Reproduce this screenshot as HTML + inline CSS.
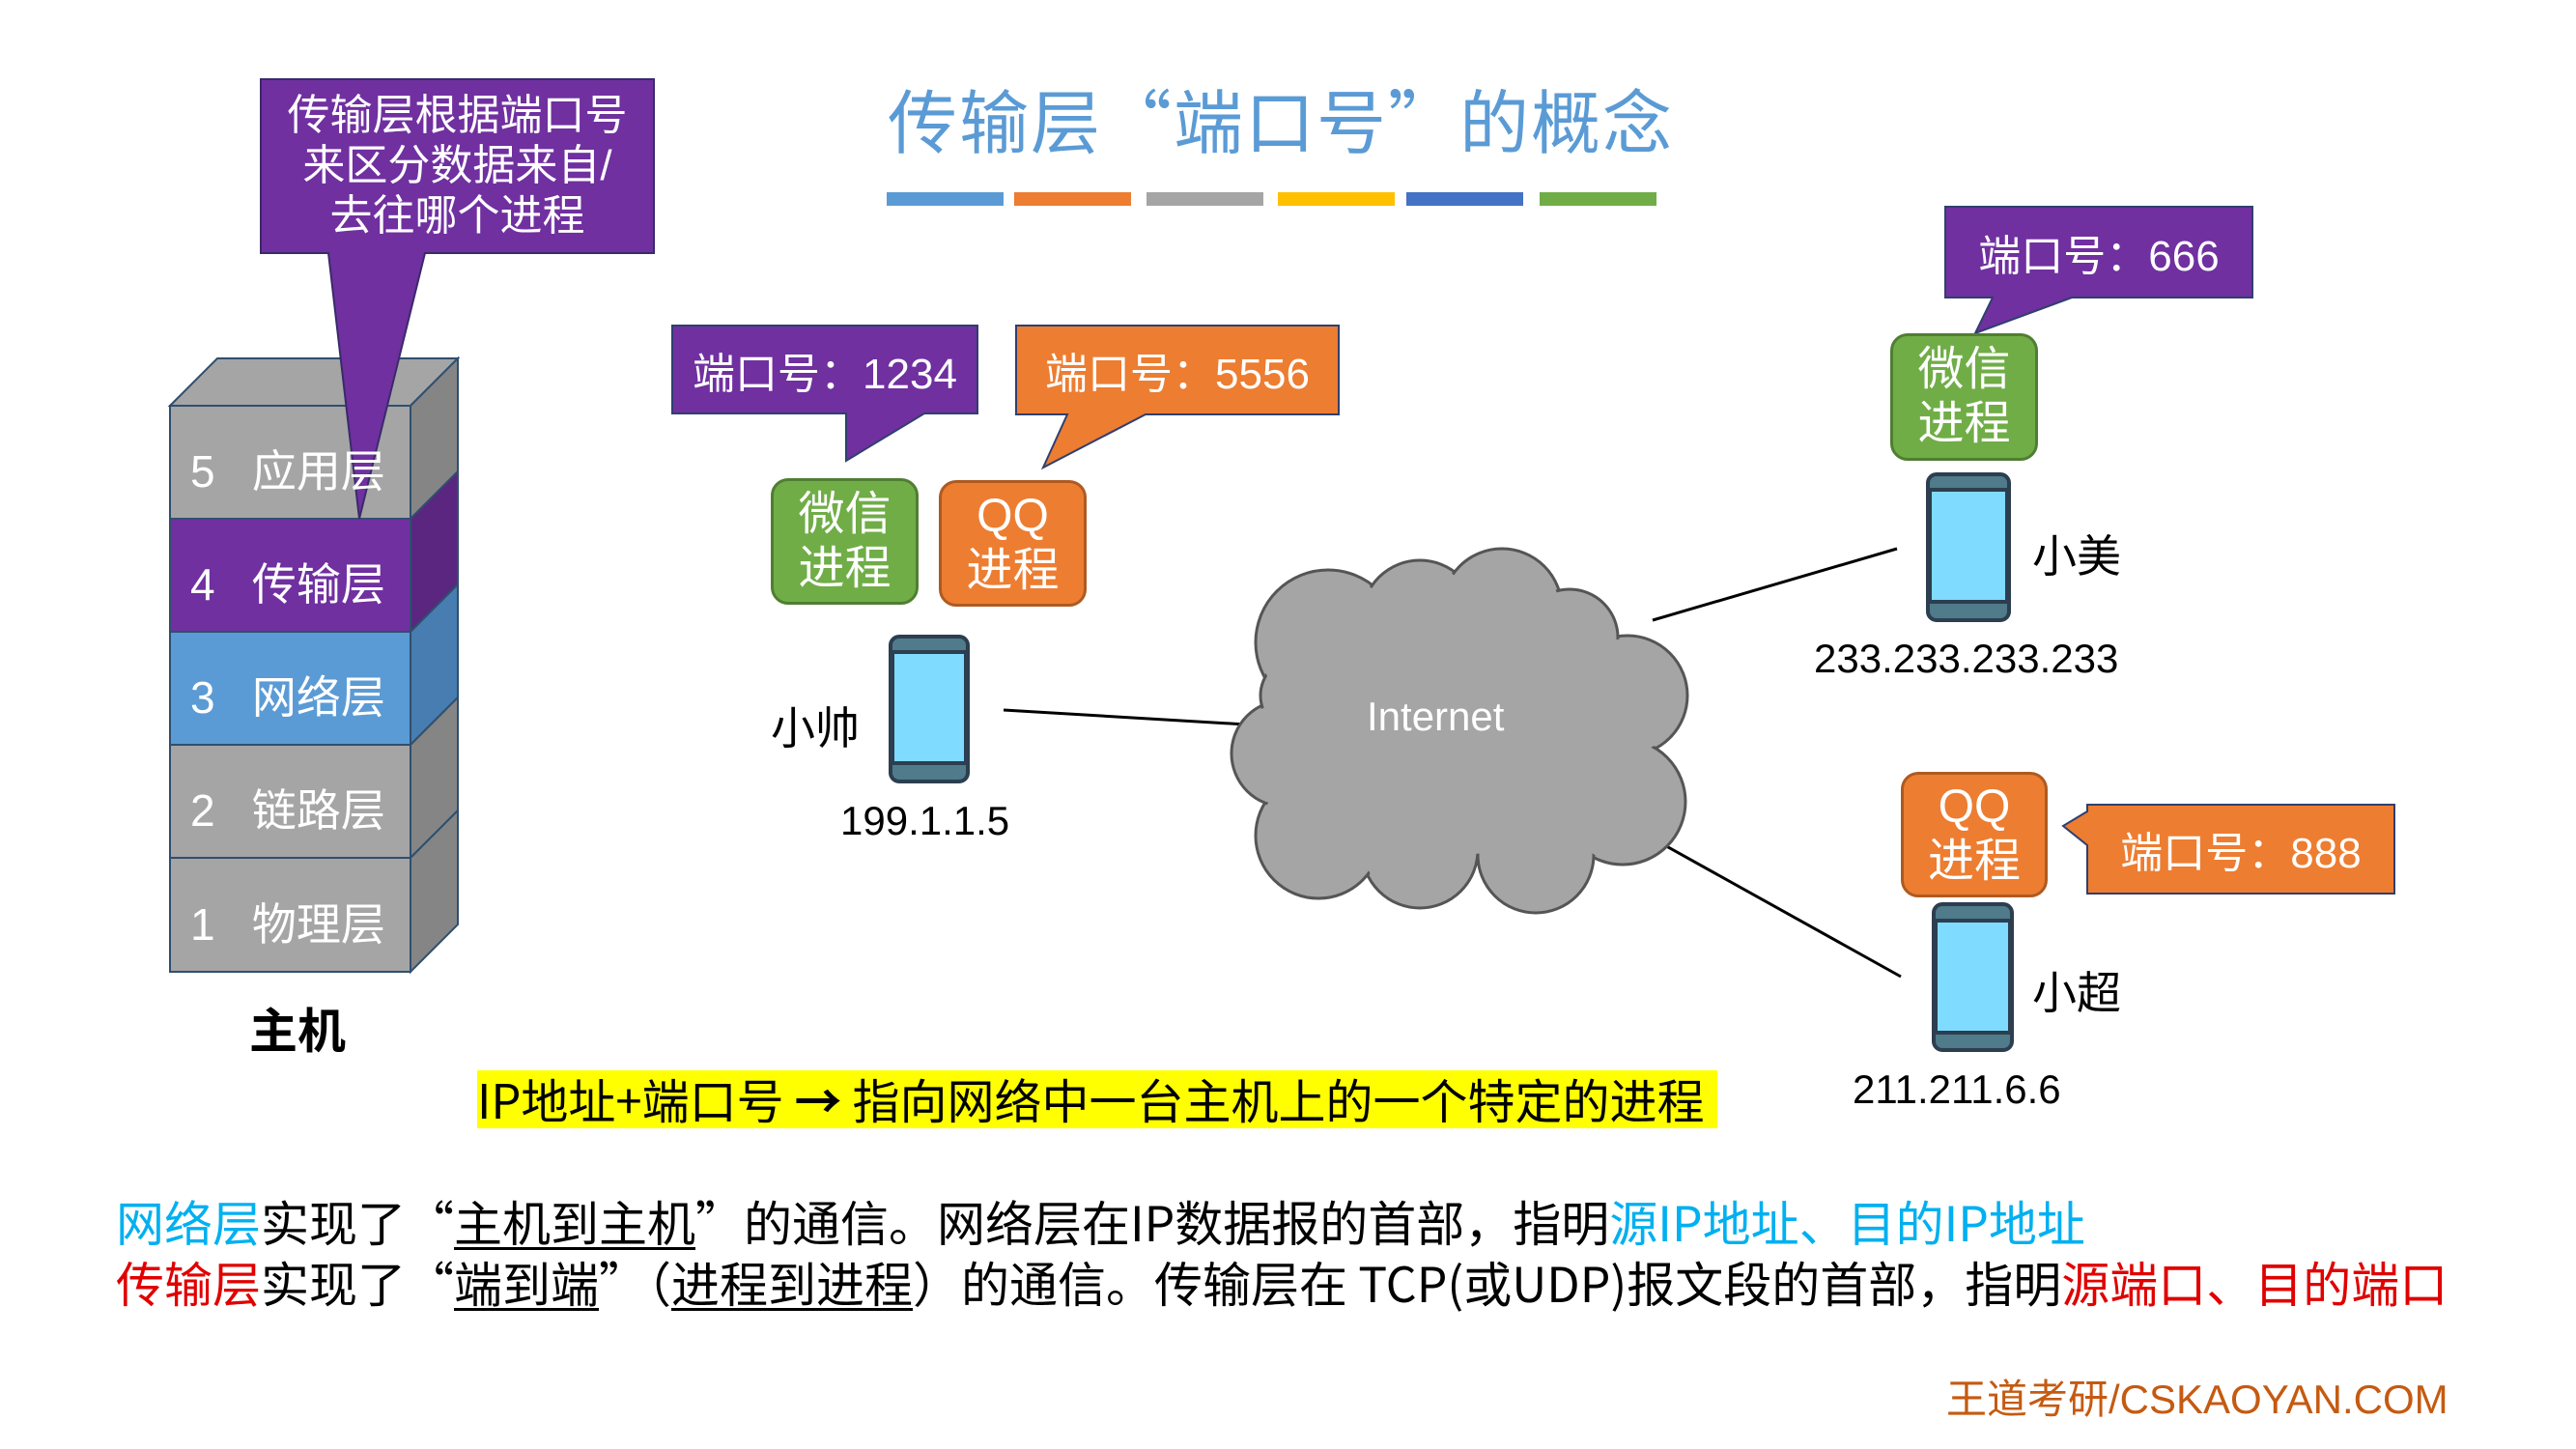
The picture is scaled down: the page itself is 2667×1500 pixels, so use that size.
<!DOCTYPE html>
<html><head><meta charset="utf-8"><style>
body{margin:0;width:2667px;height:1500px;background:#fff;overflow:hidden;position:relative;font-family:"Liberation Sans","Noto Sans CJK SC",sans-serif}
.a{position:absolute;white-space:nowrap}
.cj{font-family:"Noto Sans CJK SC","Liberation Sans",sans-serif}
.cb{position:absolute;display:flex;align-items:center;justify-content:center;color:#fff;text-align:center;box-sizing:border-box}
u{text-decoration-thickness:3px;text-underline-offset:6px}
</style></head><body>
<svg class="a" style="left:0;top:0" width="2667" height="1500">
 <g stroke="#2f4f6f" stroke-width="2">
  <polygon points="176,420 225,371 474,371 425,420" fill="#a5a5a5"/>
  <rect x="176" y="420" width="249" height="117" fill="#a5a5a5"/>
  <polygon points="425,420 474,371 474,488 425,537" fill="#858585"/>
  <rect x="176" y="537" width="249" height="117" fill="#7030a0"/>
  <polygon points="425,537 474,488 474,605 425,654" fill="#5a2680"/>
  <rect x="176" y="654" width="249" height="117" fill="#5b9bd5"/>
  <polygon points="425,654 474,605 474,722 425,771" fill="#477db0"/>
  <rect x="176" y="771" width="249" height="117" fill="#a5a5a5"/>
  <polygon points="425,771 474,722 474,839 425,888" fill="#858585"/>
  <rect x="176" y="888" width="249" height="118" fill="#a5a5a5"/>
  <polygon points="425,888 474,839 474,957 425,1006" fill="#858585"/>
 </g>
 <polygon points="270,82 677,82 677,262 440,262 372,537 340,262 270,262" fill="#7030a0" stroke="#3a2a6a" stroke-width="2"/>
 <rect x="918" y="199" width="121" height="14" fill="#5b9bd5"/>
 <rect x="1050" y="199" width="121" height="14" fill="#ed7d31"/>
 <rect x="1187" y="199" width="121" height="14" fill="#a5a5a5"/>
 <rect x="1323" y="199" width="121" height="14" fill="#ffc000"/>
 <rect x="1456" y="199" width="121" height="14" fill="#4472c4"/>
 <rect x="1594" y="199" width="121" height="14" fill="#70ad47"/>
 <polygon points="696,337 1012,337 1012,428 957,428 876,477 876,428 696,428" fill="#7030a0" stroke="#2f3f6f" stroke-width="2"/>
 <polygon points="1052,337 1386,337 1386,429 1186,429 1080,484 1105,429 1052,429" fill="#ed7d31" stroke="#2f3f6f" stroke-width="2"/>
 <polygon points="2014,214 2332,214 2332,308 2145,308 2045,345 2063,308 2014,308" fill="#7030a0" stroke="#2f3f6f" stroke-width="2"/>
 <polygon points="2161,833 2479,833 2479,925 2161,925 2161,875 2136,855 2161,840" fill="#ed7d31" stroke="#2f3f6f" stroke-width="2"/>
 <g stroke="#000" stroke-width="3">
  <line x1="1039" y1="735" x2="1290" y2="750"/>
  <line x1="1711" y1="642" x2="1964" y2="568"/>
  <line x1="1675" y1="848" x2="1968" y2="1011"/>
 </g>
 <g fill="#a5a5a5" stroke="#555" stroke-width="3">
  <circle cx="1375" cy="665" r="75"/><circle cx="1470" cy="640" r="60"/><circle cx="1555" cy="630" r="62"/>
  <circle cx="1685" cy="720" r="62"/><circle cx="1680" cy="830" r="65"/><circle cx="1590" cy="885" r="60"/>
  <circle cx="1470" cy="880" r="60"/><circle cx="1365" cy="865" r="65"/><circle cx="1330" cy="780" r="55"/><circle cx="1625" cy="660" r="50"/><circle cx="1345" cy="720" r="40"/>
 </g>
 <g fill="#a5a5a5">
  <circle cx="1375" cy="665" r="72"/><circle cx="1470" cy="640" r="57"/><circle cx="1555" cy="630" r="59"/>
  <circle cx="1685" cy="720" r="59"/><circle cx="1680" cy="830" r="62"/><circle cx="1590" cy="885" r="57"/>
  <circle cx="1470" cy="880" r="57"/><circle cx="1365" cy="865" r="62"/><circle cx="1330" cy="780" r="52"/><circle cx="1625" cy="660" r="47"/><circle cx="1345" cy="720" r="37"/>
  <ellipse cx="1505" cy="755" rx="180" ry="130"/>
 </g>
 <g stroke="#2c3e50" stroke-width="4">
  <rect x="922" y="659" width="80" height="150" rx="9" fill="#4f7b8a"/>
  <rect x="924" y="675" width="76" height="115" fill="#7fdbff"/>
  <rect x="1996" y="491" width="84" height="151" rx="9" fill="#4f7b8a"/>
  <rect x="1998" y="507" width="80" height="116" fill="#7fdbff"/>
  <rect x="2002" y="936" width="81" height="151" rx="9" fill="#4f7b8a"/>
  <rect x="2004" y="953" width="77" height="116" fill="#7fdbff"/>
 </g>
</svg>
<div class="a" style="left:197px;top:452px;font-size:46px;color:#fff">5&nbsp;&nbsp;&nbsp;应用层</div>
<div class="a" style="left:197px;top:569px;font-size:46px;color:#fff">4&nbsp;&nbsp;&nbsp;传输层</div>
<div class="a" style="left:197px;top:686px;font-size:46px;color:#fff">3&nbsp;&nbsp;&nbsp;网络层</div>
<div class="a" style="left:197px;top:803px;font-size:46px;color:#fff">2&nbsp;&nbsp;&nbsp;链路层</div>
<div class="a" style="left:197px;top:921px;font-size:46px;color:#fff">1&nbsp;&nbsp;&nbsp;物理层</div>
<div class="a" style="left:258px;top:1028px;font-size:50px;font-weight:bold">主机</div>
<div class="cb" style="left:270px;top:82px;width:407px;height:180px;font-size:44px;line-height:52px">传输层根据端口号<br>来区分数据来自/<br>去往哪个进程</div>
<div class="a cj" style="left:919px;top:72px;font-size:72px;line-height:100px;color:#5b9bd5;letter-spacing:2px">传输层“端口号”的概念</div>
<div class="cb" style="left:696px;top:337px;width:316px;height:91px;font-size:44px">端口号：1234</div>
<div class="cb" style="left:1052px;top:337px;width:334px;height:92px;font-size:44px">端口号：5556</div>
<div class="cb" style="left:2014px;top:214px;width:318px;height:94px;font-size:44px">端口号：666</div>
<div class="cb" style="left:2161px;top:833px;width:318px;height:92px;font-size:44px">端口号：888</div>
<div class="cb" style="left:798px;top:495px;width:153px;height:131px;border-radius:18px;background:#70ad47;border:3px solid #507e32;font-size:48px;line-height:56px">微信<br>进程</div>
<div class="cb" style="left:972px;top:497px;width:153px;height:131px;border-radius:18px;background:#ed7d31;border:3px solid #ae5a21;font-size:48px;line-height:56px">QQ<br>进程</div>
<div class="cb" style="left:1957px;top:345px;width:153px;height:132px;border-radius:18px;background:#70ad47;border:3px solid #507e32;font-size:48px;line-height:56px">微信<br>进程</div>
<div class="cb" style="left:1968px;top:799px;width:152px;height:130px;border-radius:18px;background:#ed7d31;border:3px solid #ae5a21;font-size:48px;line-height:56px">QQ<br>进程</div>
<div class="a" style="left:798px;top:718px;font-size:46px">小帅</div>
<div class="a" style="left:870px;top:826px;font-size:42px">199.1.1.5</div>
<div class="a" style="left:1415px;top:718px;font-size:42px;color:#fff">Internet</div>
<div class="a" style="left:2104px;top:540px;font-size:46px">小美</div>
<div class="a" style="left:1878px;top:658px;font-size:42px">233.233.233.233</div>
<div class="a" style="left:2104px;top:992px;font-size:46px">小超</div>
<div class="a" style="left:1918px;top:1104px;font-size:42px">211.211.6.6</div>
<div class="a cj" style="left:494px;top:1108px;width:1284px;height:60px;background:#ffff00;font-size:49px;line-height:60px">IP地址+端口号 <b>→</b> 指向网络中一台主机上的一个特定的进程</div>
<div class="a cj" style="left:120px;top:1232px;font-size:50px;line-height:64px"><span style="color:#00b0f0">网络层</span>实现了“<u>主机到主机</u>”的通信。网络层在IP数据报的首部，指明<span style="color:#00b0f0">源IP地址、目的IP地址</span></div>
<div class="a cj" style="left:120px;top:1295px;font-size:50px;line-height:64px"><span style="color:#e00000">传输层</span>实现了“<u>端到端</u>”（<u>进程到进程</u>）的通信。传输层在 TCP(或UDP)报文段的首部，指明<span style="color:#e00000">源端口、目的端口</span></div>
<div class="a" style="left:2015px;top:1415px;font-size:42px;color:#c55a11">王道考研/CSKAOYAN.COM</div>
</body></html>
